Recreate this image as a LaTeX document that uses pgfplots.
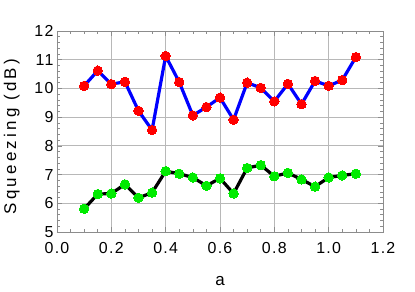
\documentclass[border=0pt]{standalone}
\usepackage{fontspec}
\setmainfont{Liberation Sans}
\newfontfamily\tickfont[LetterSpace=8]{Liberation Sans}
\newfontfamily\labfont[LetterSpace=19]{Liberation Sans}
\newfontfamily\xlabfont{Liberation Sans}
\usepackage{pgfplots}
\pgfplotsset{compat=1.18}
\definecolor{myred}{RGB}{255,0,0}
\definecolor{myblue}{RGB}{0,0,255}
\definecolor{mygreen}{RGB}{0,235,0}
\begin{document}
\begin{tikzpicture}[x=1bp,y=1bp]
\useasboundingbox (-57,-60) rectangle (358,232);
\begin{axis}[
  at={(0,0)}, anchor=south west,
  scale only axis, width=326bp, height=201bp,
  xmin=0, xmax=1.2, ymin=5, ymax=12,
  xtick={0,0.2,0.4,0.6,0.8,1.0,1.2},
  xticklabels={0.0,0.2,0.4,0.6,0.8,1.0,1.2},
  ytick={5,6,7,8,9,10,11,12},
  yticklabels={5,6,7,8,9,10,11,12},
  minor x tick num=3, minor y tick num=4,
  grid=major,
  major grid style={draw=black!28, line width=0.9bp},
  axis line style={draw=black!45, line width=0.9bp},
  tick style={draw=black!45, line width=0.6bp},
  major tick length=5bp, minor tick length=3bp,
  tick align=inside,
  ticklabel style={font=\tickfont\fontsize{16}{16}\selectfont},
  xticklabel style={yshift=-7bp},
  xlabel={a}, ylabel={Squeezing (dB)},
  xlabel style={font=\xlabfont\fontsize{17}{17}\selectfont, at={(axis description cs:0.5,0)}, anchor=base, yshift=-53bp},
  ylabel style={font=\labfont\fontsize{17}{17}\selectfont, at={(axis description cs:-0.139,0.475)}, anchor=center},
]
\addplot[myblue, line width=3.2bp, mark=*, mark size=4.7bp, mark options={draw=myred, fill=myred, line width=0pt}] coordinates {
(0.10,10.09) (0.15,10.62) (0.20,10.15) (0.25,10.23) (0.30,9.22) (0.35,8.55)
(0.40,11.13) (0.45,10.22) (0.50,9.06) (0.55,9.35) (0.60,9.68) (0.65,8.91)
(0.70,10.20) (0.75,10.02) (0.80,9.55) (0.85,10.16) (0.90,9.45) (0.95,10.26)
(1.00,10.09) (1.05,10.29) (1.10,11.09)};
\addplot[black, line width=3.2bp, mark=*, mark size=4.7bp, mark options={draw=mygreen, fill=mygreen, line width=0pt}] coordinates {
(0.10,5.81) (0.15,6.32) (0.20,6.34) (0.25,6.66) (0.30,6.19) (0.35,6.37)
(0.40,7.12) (0.45,7.03) (0.50,6.90) (0.55,6.61) (0.60,6.87) (0.65,6.34)
(0.70,7.23) (0.75,7.33) (0.80,6.94) (0.85,7.06) (0.90,6.83) (0.95,6.58)
(1.00,6.90) (1.05,6.97) (1.10,7.03)};
\end{axis}
\end{tikzpicture}
\end{document}
